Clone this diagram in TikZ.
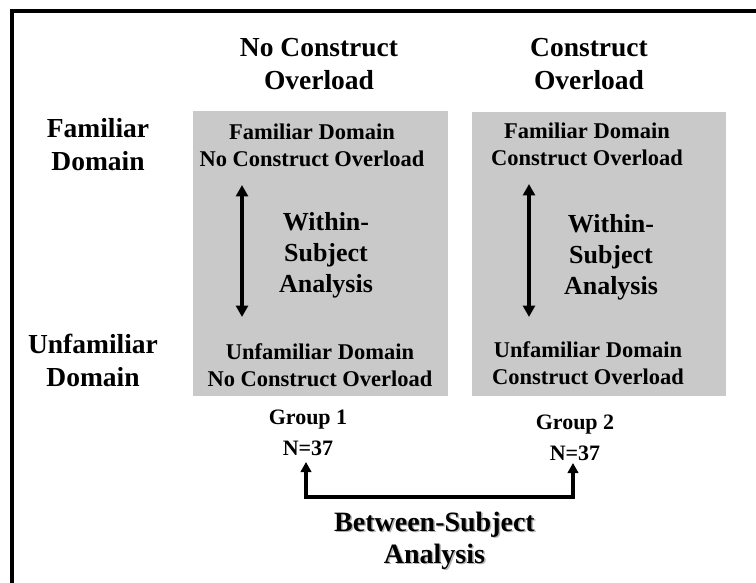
\documentclass[tikz,border=0pt]{standalone}
\usepackage{fontspec}
\setmainfont{Liberation Serif}
\usetikzlibrary{arrows.meta}

\definecolor{cellgray}{RGB}{201,201,201}
\definecolor{shadowgray}{RGB}{150,150,150}

% multi-line nodes are placed by the baseline of their last line
\tikzset{
  txt/.style={inner sep=0pt, anchor=base, align=center},
  heading/.style={txt, font=\bfseries\fontsize{27.5}{33}\selectfont},
  celltext/.style={txt, font=\bfseries\fontsize{22.5}{27}\selectfont},
  withintext/.style={txt, font=\bfseries\fontsize{26}{30.8}\selectfont},
  grouptext/.style={txt, font=\bfseries\fontsize{22}{31}\selectfont},
  betweentext/.style={txt, font=\bfseries\fontsize{28}{32}\selectfont},
  cellbox/.style={fill=cellgray, draw=none, inner sep=0pt},
  frameline/.style={line width=4pt, line join=miter},
  withinarrow/.style={line width=3.8pt, {Triangle[length=11.5pt,width=12pt]}-{Triangle[length=11.5pt,width=12pt]}},
  betweenarrow/.style={line width=3.2pt, line join=miter, {Triangle[length=10pt,width=10.5pt]}-{Triangle[length=10pt,width=10.5pt]}}
}

\begin{document}
\begin{tikzpicture}[x=1pt, y=-1pt]
  \useasboundingbox (0,0) rectangle (756,583);

  % open frame: left and top rules
  \coordinate (frameBL) at (12,600);
  \coordinate (frameTL) at (12,11);
  \coordinate (frameTR) at (780,11);
  \draw[frameline] (frameBL) -- (frameTL) -- (frameTR);

  % grey condition panels
  \node[cellbox, minimum width=255pt, minimum height=285pt] (panelL) at (320.5,253.5) {};
  \node[cellbox, minimum width=254pt, minimum height=284pt] (panelR) at (599,254) {};

  % column headings
  \node[heading] (colA) at (319,90) {No Construct\\Overload};
  \node[heading] (colB) at (589,90) {Construct\\Overload};

  % row headings
  \node[heading] (rowA) at (98,171) {Familiar\\Domain};
  \node[heading] (rowB) at (93,386) {Unfamiliar\\Domain};

  % left panel contents
  \node[celltext] (fdL) at (312,167) {Familiar Domain\\No Construct Overload};
  \node[celltext] (udL) at (320,386) {Unfamiliar Domain\\No Construct Overload};
  \node[withintext] (wsL) at (326,292.5) {Within-\\Subject\\Analysis};

  % right panel contents
  \node[celltext] (fdR) at (587,166) {Familiar Domain\\Construct Overload};
  \node[celltext] (udR) at (588,384) {Unfamiliar Domain\\Construct Overload};
  \node[withintext] (wsR) at (611,294.5) {Within-\\Subject\\Analysis};

  % within-subject arrows
  \coordinate (wLtop) at (242,185);
  \coordinate (wLbot) at (242,317);
  \coordinate (wRtop) at (529,184);
  \coordinate (wRbot) at (529,317);
  \draw[withinarrow] (wLtop) -- (wLbot);
  \draw[withinarrow] (wRtop) -- (wRbot);

  % groups
  \node[grouptext] (grp1) at (308,455) {Group 1\\N=37};
  \node[grouptext] (grp2) at (575,460) {Group 2\\N=37};

  % between-subject connector
  \coordinate (b1) at (306,462);
  \coordinate (b2) at (573,463);
  \coordinate (bL) at (306,497);
  \coordinate (bR) at (573,497);
  \draw[betweenarrow] (b1) -- (bL) -- (bR) -- (b2);

  % between-subject label with soft drop shadow
  \node[betweentext, text=shadowgray, opacity=0.7] (betweenShadow) at (436,564.5) {Between-Subject\\Analysis};
  \node[betweentext] (between) at (434.5,563) {Between-Subject\\Analysis};
\end{tikzpicture}
\end{document}
